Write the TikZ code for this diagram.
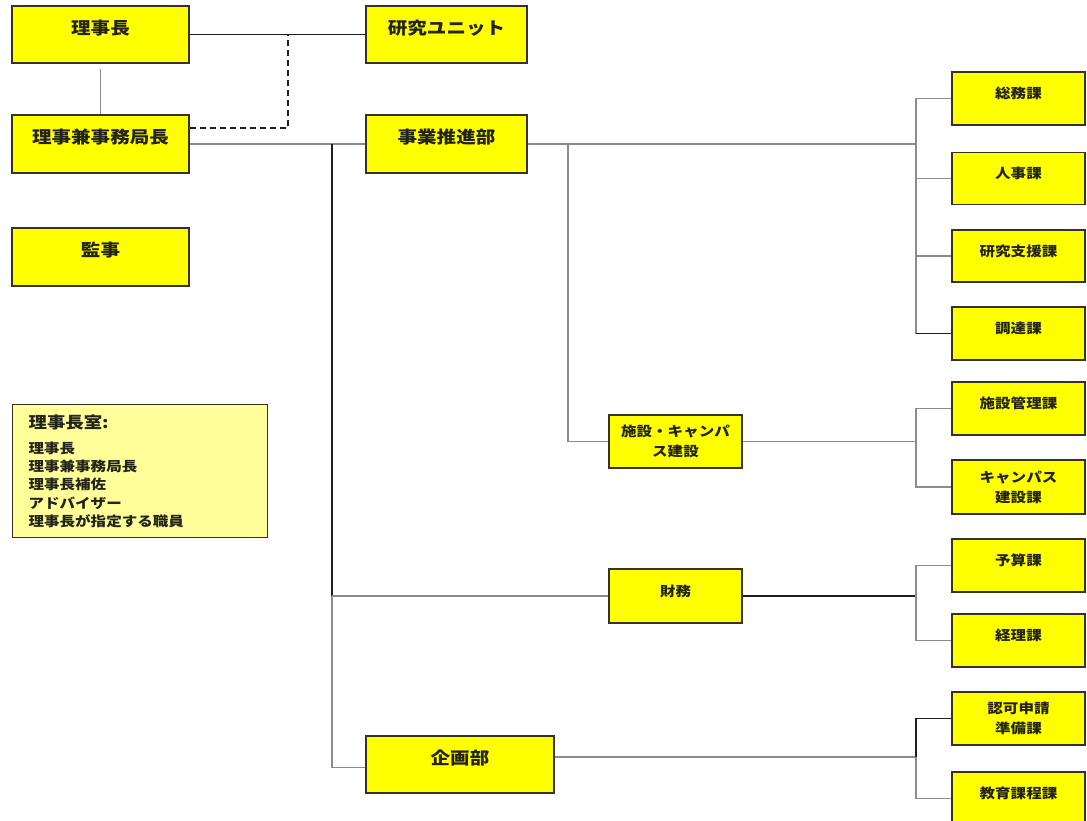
\documentclass[tikz,border=0pt]{standalone}
\usepackage{fontspec}
\setmainfont{Noto Sans CJK JP}[FakeStretch=1.15]
\definecolor{boxy}{RGB}{255,255,0}
\definecolor{boxline}{RGB}{55,50,35}
\definecolor{legy}{RGB}{255,255,153}
\definecolor{lgray}{RGB}{140,140,140}
\definecolor{ldark}{RGB}{30,30,30}
\definecolor{txt}{RGB}{35,35,25}
\tikzset{
  box/.style={draw=boxline, line width=1.3pt, fill=boxy, inner sep=0pt, text=txt},
  big/.style={box, minimum width=177pt, minimum height=57pt, text height=0pt, text depth=0pt,
    font=\fontsize{17}{20}\selectfont\bfseries},
  sm/.style={box, minimum width=133pt, minimum height=53pt, text height=0pt, text depth=0pt,
    font=\fontsize{13.5}{20}\selectfont\bfseries},
  smtwo/.style={box, minimum width=133pt, minimum height=53pt, align=center,
    font=\fontsize{13.5}{20}\selectfont\bfseries},
  legend/.style={draw=boxline, line width=1.3pt, fill=legy, text=txt, minimum width=255pt,
    minimum height=133pt, text width=223pt, inner xsep=16pt, inner ysep=0pt, align=left,
    font=\fontsize{13.5}{18.3}\selectfont\bfseries},
  conn/.style={draw=lgray, line width=1.1pt},
  connk/.style={draw=ldark, line width=1.1pt},
}
\begin{document}
\begin{tikzpicture}[x=1pt,y=-1pt]
\useasboundingbox (0,0) rectangle (1087,821);
\fill[white] (0,0) rectangle (1087,821);

% left column
\node[big] (r1) at (100.5,34.5) {理事長};
\node[big, minimum height=58pt] (r2) at (100.5,144) {理事兼事務局長};
\node[big, minimum height=58pt] (kan) at (100.5,257) {監事};
% middle
\node[big, minimum width=161pt] (ken) at (446.5,34.5) {研究ユニット};
\node[big, minimum width=161pt, minimum height=58pt] (jig) at (446.5,144) {事業推進部};
\node[big, minimum width=188pt] (kik) at (460,764.5) {企画部};
\node[smtwo] (shi) at (675.5,441.5) {施設・キャンパ\\ス建設};
\node[sm, minimum height=54pt] (zai) at (675.5,596) {財務};
% right column
\node[sm] (soumu) at (1018.5,98.5) {総務課};
\node[sm, minimum height=52pt] (jinji) at (1018.5,178.5) {人事課};
\node[sm, minimum height=52pt] (kenshi) at (1018.5,256) {研究支援課};
\node[sm] (chou) at (1018.5,333.5) {調達課};
\node[sm] (shikan) at (1018.5,408.5) {施設管理課};
\node[smtwo, minimum height=54pt] (camp) at (1018.5,487) {キャンパス\\建設課};
\node[sm] (yosan) at (1018.5,565.5) {予算課};
\node[sm] (keiri) at (1018.5,640.5) {経理課};
\node[smtwo] (ninka) at (1018.5,718.5) {認可申請\\準備課};
\node[sm] (kyoiku) at (1018.5,798.5) {教育課程課};

% legend
\node[legend, anchor=north west] (leg) at (12,404) {{\fontsize{16}{16}\selectfont 理事長室:}\\[7pt]
理事長\\
理事兼事務局長\\
理事長補佐\\
アドバイザー\\
理事長が指定する職員};

% connectors
\draw[connk] (r1.east) -- (ken.west);
\coordinate (dj) at (288,34.5);
\draw[connk, dash pattern=on 6pt off 4pt] ([yshift=16pt]r2.east) -| (dj);
\draw[conn] ([yshift=-5pt]r1.south) -- (r2.north);
\draw[conn] (r2.east) -- (jig.west);

\coordinate (vt) at (332,144);
\coordinate (vz) at (332,596);
\draw[connk] (vt) -- (vz);
\draw[conn] (vz) -- (zai.west);
\draw[conn] (vz) |- ([yshift=-3pt]kik.west);

\coordinate (b1) at (916,144);
\draw[conn] (jig.east) -- (b1);
\draw[conn] (b1) |- (soumu.west);
\draw[conn] (b1) |- (jinji.west);
\draw[conn] (b1) |- (kenshi.west);
\draw[conn] (b1) |- (chou.west);
\draw[connk] (chou.west -| b1) -- (chou.west);

\coordinate (v2) at (568,144);
\draw[conn] (v2) |- (shi.west);

\coordinate (b2) at (916,441.5);
\draw[conn] (shi.east) -- (b2);
\draw[conn] (b2) |- (shikan.west);
\draw[conn] (b2) |- (camp.west);

\coordinate (b3) at (916,596);
\draw[connk] (zai.east) -- (b3);
\draw[conn] (b3) |- (yosan.west);
\draw[conn] (b3) |- (keiri.west);

\coordinate (b4) at (916,757);
\draw[conn] ([yshift=7.5pt]kik.east) -- (b4);
\draw[connk] (b4) |- (ninka.west);
\draw[conn] (b4) |- (kyoiku.west);
\end{tikzpicture}
\end{document}
